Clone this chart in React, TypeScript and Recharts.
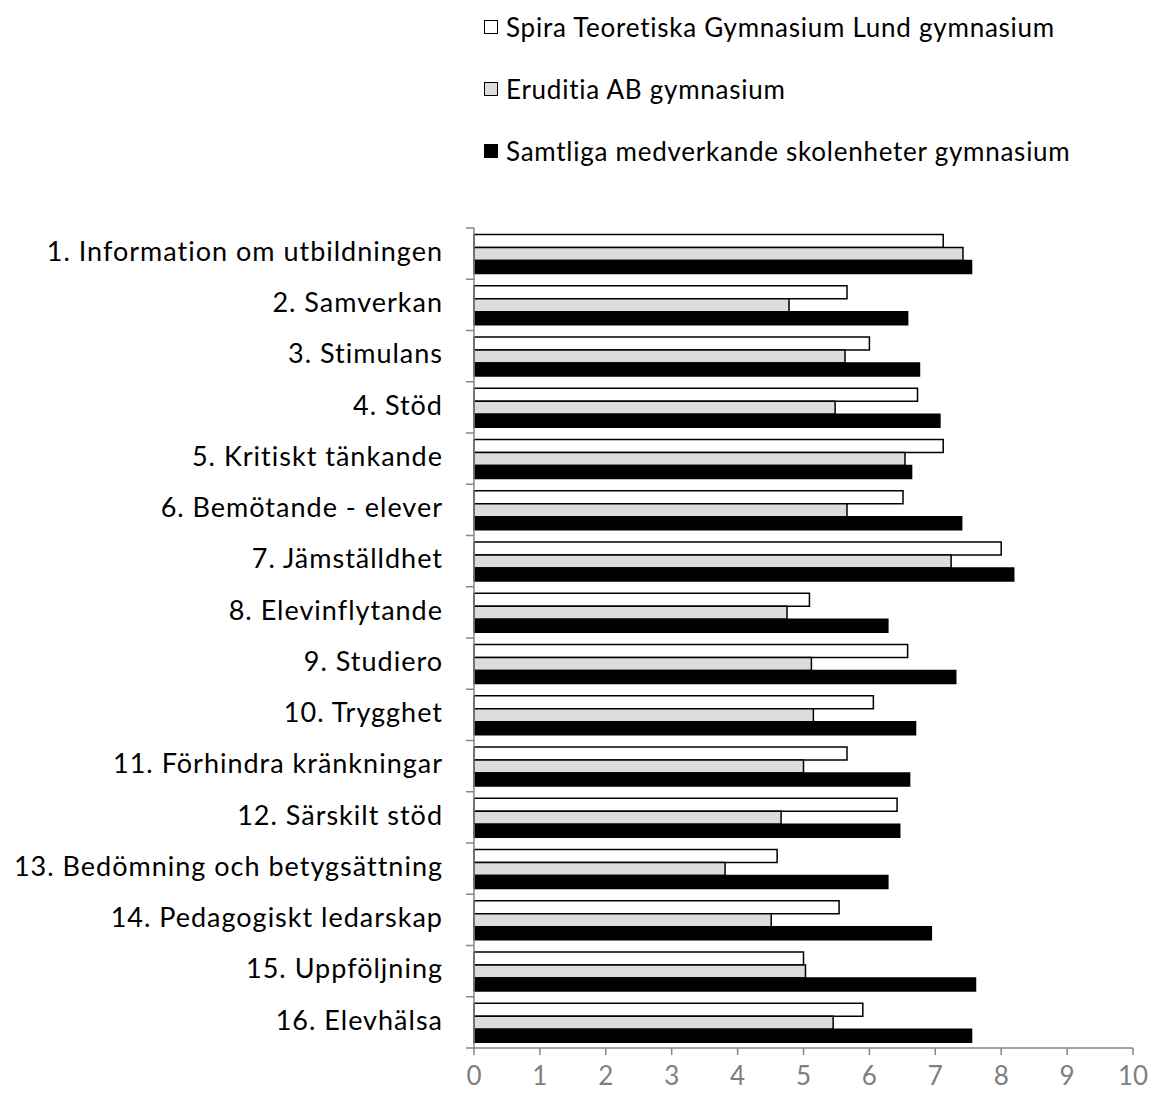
import { BarChart, Bar, XAxis, YAxis } from 'recharts';

const categories = [
  '1. Information om utbildningen',
  '2. Samverkan',
  '3. Stimulans',
  '4. Stöd',
  '5. Kritiskt tänkande',
  '6. Bemötande - elever',
  '7. Jämställdhet',
  '8. Elevinflytande',
  '9. Studiero',
  '10. Trygghet',
  '11. Förhindra kränkningar',
  '12. Särskilt stöd',
  '13. Bedömning och betygsättning',
  '14. Pedagogiskt ledarskap',
  '15. Uppföljning',
  '16. Elevhälsa',
];

const spira = [7.12, 5.66, 6.0, 6.73, 7.12, 6.51, 8.0, 5.09, 6.58, 6.06, 5.66, 6.42, 4.6, 5.54, 5.0, 5.9];
const eruditia = [7.42, 4.78, 5.63, 5.48, 6.54, 5.66, 7.24, 4.75, 5.12, 5.15, 5.0, 4.66, 3.81, 4.51, 5.03, 5.45];
const samtliga = [7.55, 6.58, 6.76, 7.07, 6.64, 7.4, 8.19, 6.28, 7.31, 6.7, 6.61, 6.46, 6.28, 6.94, 7.61, 7.55];

const xTicks = [0, 1, 2, 3, 4, 5, 6, 7, 8, 9, 10];

const series = [
  { key: 'spira', name: 'Spira Teoretiska Gymnasium Lund gymnasium', fill: '#ffffff' },
  { key: 'eruditia', name: 'Eruditia AB gymnasium', fill: '#dcdcdc' },
  { key: 'samtliga', name: 'Samtliga medverkande skolenheter gymnasium', fill: '#000000' },
];

const data = categories.map((name, i) => ({
  name,
  spira: spira[i],
  eruditia: eruditia[i],
  samtliga: samtliga[i],
}));

const FONT = 'Lato, "Open Sans", sans-serif';
const AXIS_GRAY = '#868686';
const LABEL_GAP = 31;

// category label plus a tick mark on each band boundary (Excel style)
function CategoryTick(props: any) {
  const { x, y, payload, index } = props;
  const half = payload?.offset ?? 0;
  const axisX = x + LABEL_GAP;
  const last = index === categories.length - 1;
  return (
    <g>
      <text
        x={x}
        y={y}
        dy="0.27em"
        textAnchor="end"
        fill="#000"
        fontSize={27}
        letterSpacing={1.0}
        fontFamily={FONT}
      >
        {payload.value}
      </text>
      <line x1={axisX - 8} x2={axisX} y1={y - half} y2={y - half} stroke={AXIS_GRAY} strokeWidth={1.5} />
      {last && (
        <line x1={axisX - 8} x2={axisX} y1={y + half} y2={y + half} stroke={AXIS_GRAY} strokeWidth={1.5} />
      )}
    </g>
  );
}

export default function App() {
  return (
    <div
      style={{
        position: 'fixed',
        left: 0,
        top: 0,
        width: 1149,
        height: 1104,
        background: '#fff',
        fontFamily: FONT,
      }}
    >
      <div style={{ position: 'absolute', left: 484, top: 8 }}>
        {series.map((s) => (
          <div
            key={s.key}
            style={{ display: 'flex', alignItems: 'center', height: 38, marginBottom: 24 }}
          >
            <span
              style={{
                display: 'inline-block',
                width: 12,
                height: 12,
                border: '1.5px solid #000',
                background: s.fill,
                marginRight: 8,
              }}
            />
            <span style={{ fontSize: 26, letterSpacing: 0.75, color: '#000', whiteSpace: 'nowrap' }}>
              {s.name}
            </span>
          </div>
        ))}
      </div>
      <BarChart
        width={1149}
        height={1104}
        data={data}
        layout="vertical"
        margin={{ top: 228, right: 16, bottom: 0, left: 0 }}
        barCategoryGap="12.5%"
        barGap={0}
      >
        <XAxis
          type="number"
          domain={[0, 10]}
          ticks={xTicks}
          interval={0}
          height={56}
          tickSize={7}
          tickMargin={12}
          axisLine={{ stroke: AXIS_GRAY, strokeWidth: 1.5 }}
          tickLine={{ stroke: AXIS_GRAY, strokeWidth: 1.5 }}
          tick={{ fontSize: 26, fill: '#7f7f7f', fontFamily: FONT }}
        />
        <YAxis
          type="category"
          dataKey="name"
          width={474}
          interval={0}
          tickSize={0}
          tickMargin={LABEL_GAP}
          tickLine={false}
          axisLine={{ stroke: AXIS_GRAY, strokeWidth: 1.5 }}
          tick={<CategoryTick />}
        />
        {series.map((s) => (
          <Bar
            key={s.key}
            dataKey={s.key}
            name={s.name}
            fill={s.fill}
            stroke="#000"
            strokeWidth={1.5}
            isAnimationActive={false}
          />
        ))}
      </BarChart>
    </div>
  );
}
